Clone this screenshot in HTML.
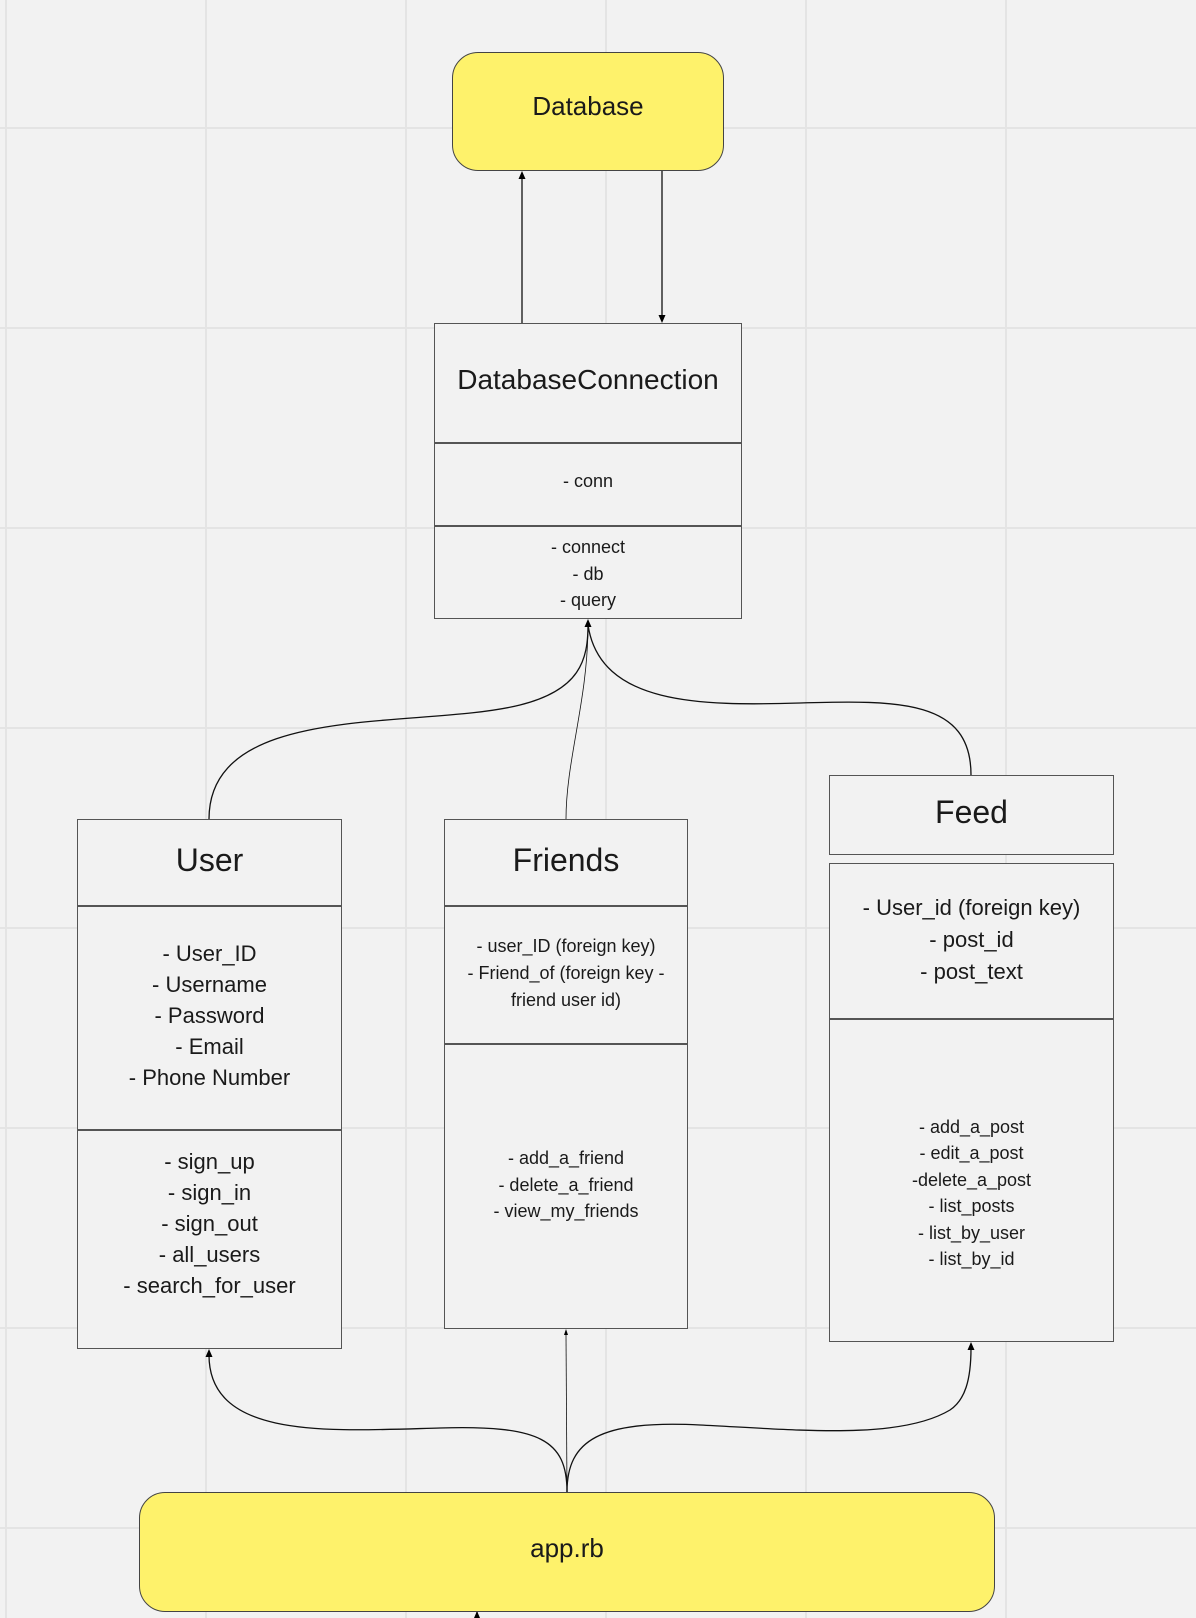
<!DOCTYPE html>
<html><head><meta charset="utf-8"><style>
body{margin:0;width:1196px;height:1618px;background:#f2f2f2;position:relative;overflow:hidden;font-family:"Liberation Sans",sans-serif;color:#1a1a1a}
.b{position:absolute;box-sizing:border-box;border:1px solid #555;background:#f2f2f2}
.t{position:absolute;left:0;right:0;text-align:center;white-space:nowrap}
.y{position:absolute;box-sizing:border-box;border:1px solid #444;background:#fef26b;border-radius:26px}
.hr{position:absolute;left:0;right:0;border-top:2px solid #555}
</style></head><body>
<svg width="1196" height="1618" style="position:absolute;left:0;top:0">
<g stroke="#e4e4e4" stroke-width="2">
<line x1="6" y1="0" x2="6" y2="1618"/><line x1="206" y1="0" x2="206" y2="1618"/><line x1="406" y1="0" x2="406" y2="1618"/><line x1="606" y1="0" x2="606" y2="1618"/><line x1="806" y1="0" x2="806" y2="1618"/><line x1="1006" y1="0" x2="1006" y2="1618"/>
<line x1="0" y1="128" x2="1196" y2="128"/><line x1="0" y1="328" x2="1196" y2="328"/><line x1="0" y1="528" x2="1196" y2="528"/><line x1="0" y1="728" x2="1196" y2="728"/><line x1="0" y1="928" x2="1196" y2="928"/><line x1="0" y1="1128" x2="1196" y2="1128"/><line x1="0" y1="1328" x2="1196" y2="1328"/><line x1="0" y1="1528" x2="1196" y2="1528"/>
</g>
<g fill="none" stroke="#111" stroke-width="1.3">
<line x1="522" y1="323" x2="522" y2="176"/>
<line x1="662" y1="171" x2="662" y2="318"/>
<path d="M209,819 C209,700 420,730 520,705 C580,690 588,660 588,625"/>
<path d="M566,819 C566,760 588,700 588,625" stroke-width="0.8"/>
<path d="M971,775 C971,700 900,700 800,703 C700,706 600,705 588,625"/>
<path d="M567,1492 C567,1440 540,1425 440,1428 C330,1431 209,1440 209,1355"/>
<path d="M567,1492 L566,1335" stroke-width="0.8"/>
<path d="M567,1492 C567,1440 600,1420 700,1425 C800,1430 900,1440 950,1410 C965,1400 971,1380 971,1348"/>
<line x1="477" y1="1618" x2="477" y2="1612"/>
</g>
<g fill="#000">
<path d="M522,171 L518.5,179 L525.5,179z"/>
<path d="M662,323 L658.5,315 L665.5,315z"/>
<path d="M588,619 L584.5,627 L591.5,627z"/>
<path d="M209,1349 L205.5,1357 L212.5,1357z"/>
<path d="M566,1329 L564,1335 L568,1335z"/>
<path d="M971,1342 L967.5,1350 L974.5,1350z"/>
<path d="M477,1611 L474,1618 L480,1618z"/>
</g>
</svg>
<div class="y" style="left:452px;top:52px;width:272px;height:119px"><div class="t" style="top:38px;font-size:26px">Database</div></div>
<div class="b" style="left:434px;top:323px;width:308px;height:296px">
<div class="t" style="top:40px;font-size:28px">DatabaseConnection</div>
<div class="hr" style="top:118px"></div>
<div class="t" style="top:147px;font-size:18px">- conn</div>
<div class="hr" style="top:201px"></div>
<div class="t" style="top:210px;font-size:18px;line-height:26.5px">- connect<br>- db<br>- query</div>
</div>
<div class="b" style="left:77px;top:819px;width:265px;height:530px">
<div class="t" style="top:22px;font-size:32px">User</div>
<div class="hr" style="top:85px"></div>
<div class="t" style="top:118px;font-size:22px;line-height:31px">- User_ID<br>- Username<br>- Password<br>- Email<br>- Phone Number</div>
<div class="hr" style="top:309px"></div>
<div class="t" style="top:326px;font-size:22px;line-height:31px">- sign_up<br>- sign_in<br>- sign_out<br>- all_users<br>- search_for_user</div>
</div>
<div class="b" style="left:444px;top:819px;width:244px;height:510px">
<div class="t" style="top:22px;font-size:32px">Friends</div>
<div class="hr" style="top:85px"></div>
<div class="t" style="top:113px;font-size:18px;line-height:27px">- user_ID (foreign key)<br>- Friend_of (foreign key -<br>friend user id)</div>
<div class="hr" style="top:223px"></div>
<div class="t" style="top:325px;font-size:18px;line-height:26.5px">- add_a_friend<br>- delete_a_friend<br>- view_my_friends</div>
</div>
<div class="b" style="left:829px;top:775px;width:285px;height:80px"><div class="t" style="top:18px;font-size:32px">Feed</div></div>
<div class="b" style="left:829px;top:863px;width:285px;height:479px">
<div class="t" style="top:28px;font-size:22px;line-height:32px">- User_id (foreign key)<br>- post_id<br>- post_text</div>
<div class="hr" style="top:154px"></div>
<div class="t" style="top:250px;font-size:18px;line-height:26.4px">- add_a_post<br>- edit_a_post<br>-delete_a_post<br>- list_posts<br>- list_by_user<br>- list_by_id</div>
</div>
<div class="y" style="left:139px;top:1492px;width:856px;height:120px"><div class="t" style="top:40px;font-size:26px">app.rb</div></div>
</body></html>
